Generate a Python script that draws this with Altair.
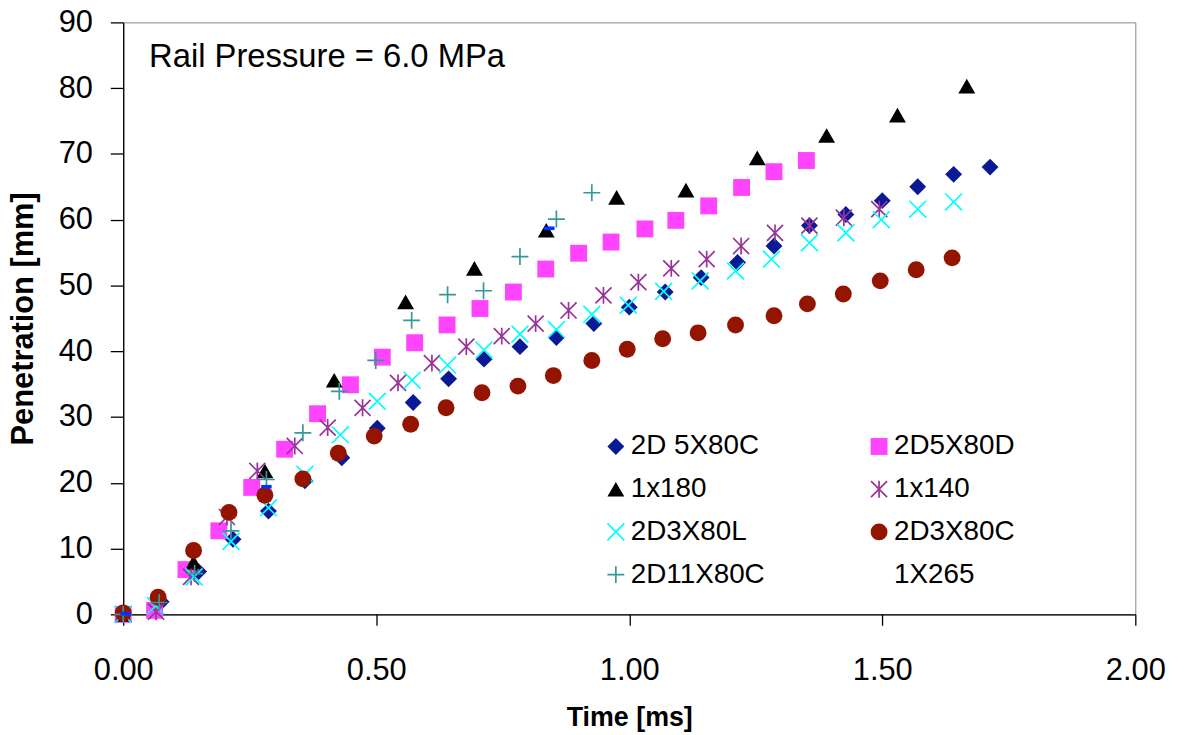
import math
import altair as alt
import pandas as pd

FONT = "Liberation Sans"

series_names = ["2D 5X80C", "2D5X80D", "1x180", "1x140",
                "2D3X80L", "2D3X80C", "2D11X80C", "1X265"]

# ---- data (time [ms], penetration [mm]) ----
t_2d5x80c = [0, 0.075, 0.149, 0.217, 0.287, 0.359, 0.432, 0.502, 0.573, 0.643, 0.713, 0.784,
             0.856, 0.930, 1.000, 1.071, 1.142, 1.214, 1.286, 1.356, 1.428, 1.500, 1.570,
             1.641, 1.713]
p_2d5x80c = [0, 1.9, 6.5, 11.4, 15.7, 20.3, 23.8, 28.3, 32.2, 35.8, 38.8, 40.7,
             42.1, 44.2, 46.7, 49.0, 51.2, 53.5, 56.0, 59.1, 60.8, 62.9, 65.0,
             66.9, 68.0]

t_2d5x80d = [0, 0.062, 0.124, 0.189, 0.254, 0.319, 0.384, 0.449, 0.512, 0.576, 0.640,
             0.705, 0.771, 0.835, 0.900, 0.964, 1.031, 1.092, 1.157, 1.222, 1.286, 1.350]
p_2d5x80d = [0, 0.6, 6.8, 12.7, 19.3, 25.1, 30.5, 34.9, 39.1, 41.3, 44.0,
             46.5, 49.0, 52.5, 54.9, 56.6, 58.6, 59.9, 62.1, 64.9, 67.3, 69.0]

t_1x180 = [0, 0.139, 0.280, 0.417, 0.558, 0.694, 0.836, 0.975, 1.112, 1.253, 1.390,
           1.530, 1.667]
p_1x180 = [0, 7.9, 21.8, 35.6, 47.5, 52.6, 58.4, 63.4, 64.5, 69.4, 72.8,
           75.9, 80.3]

t_1x140 = [0, 0.065, 0.134, 0.205, 0.265, 0.339, 0.404, 0.473, 0.543, 0.610, 0.678,
           0.748, 0.815, 0.880, 0.949, 1.018, 1.083, 1.153, 1.221, 1.288, 1.356,
           1.424, 1.494]
p_1x140 = [0, 0.4, 5.7, 14.8, 21.8, 25.6, 28.4, 31.4, 35.2, 38.2, 40.7,
           42.3, 44.2, 46.2, 48.5, 50.5, 52.6, 54.0, 56.0, 58.0, 59.1,
           60.3, 61.6]

t_2d3x80l = [0, 0.064, 0.140, 0.213, 0.287, 0.359, 0.429, 0.502, 0.571, 0.641, 0.713,
             0.784, 0.856, 0.926, 0.998, 1.068, 1.140, 1.210, 1.281, 1.356, 1.428,
             1.498, 1.570, 1.641]
p_2d3x80l = [0, 1.3, 5.7, 11.1, 16.2, 21.3, 27.3, 32.4, 35.6, 37.9, 40.2,
             42.6, 43.3, 45.6, 47.0, 49.1, 50.7, 52.2, 54.0, 56.5, 58.0,
             60.0, 61.6, 62.7]

t_2d3x80c = [0, 0.069, 0.139, 0.209, 0.280, 0.355, 0.425, 0.496, 0.568, 0.638, 0.709,
             0.780, 0.850, 0.926, 0.996, 1.066, 1.136, 1.210, 1.286, 1.352, 1.423,
             1.496, 1.567, 1.638]
p_2d3x80c = [0.2, 2.6, 9.7, 15.5, 18.1, 20.6, 24.5, 27.1, 28.9, 31.4, 33.7,
             34.7, 36.3, 38.6, 40.3, 41.9, 42.8, 44.0, 45.4, 47.2, 48.7,
             50.7, 52.4, 54.2]

t_2d11x80c = [0, 0.071, 0.141, 0.213, 0.283, 0.355, 0.427, 0.499, 0.570, 0.641, 0.712,
              0.784, 0.856, 0.926]
p_2d11x80c = [0, 1.8, 6.2, 12.7, 20.5, 27.6, 33.9, 38.6, 44.7, 48.6, 49.2,
              54.4, 60.1, 64.1]

t_1x265 = [0.005, 0.283, 0.842]
p_1x265 = [0.1, 19.4, 58.7]

annotation = "Rail Pressure = 6.0 MPa"

colors = ["#0a1a94", "#ff44ff", "#000000", "#993399",
          "#00ffff", "#951400", "#339999", "transparent"]


# ---- thin-line marker shapes as filled SVG paths ----
def seg(x0, y0, x1, y1, w=0.1):
    dx, dy = x1 - x0, y1 - y0
    L = math.hypot(dx, dy)
    nx, ny = -dy / L * w, dx / L * w
    pts = [(x0 + nx, y0 + ny), (x1 + nx, y1 + ny), (x1 - nx, y1 - ny), (x0 - nx, y0 - ny)]
    return "M" + "L".join(f"{a:.3f},{b:.3f}" for a, b in pts) + "Z"


PLUS = seg(0, -1, 0, 1) + seg(-1, 0, 1, 0)
XMARK = seg(-1, -1, 1, 1) + seg(-1, 1, 1, -1)
ASTER = seg(0, -1, 0, 1) + seg(-0.95, -0.95, 0.95, 0.95) + seg(-0.95, 0.95, 0.95, -0.95)
DASH = "M-1,-0.35L1,-0.35L1,0.35L-1,0.35Z"

shapes = ["diamond", "square", "triangle-up", ASTER, XMARK, "circle", PLUS, "circle"]

series_t = [t_2d5x80c, t_2d5x80d, t_1x180, t_1x140, t_2d3x80l, t_2d3x80c, t_2d11x80c]
series_p = [p_2d5x80c, p_2d5x80d, p_1x180, p_1x140, p_2d3x80l, p_2d3x80c, p_2d11x80c]

rows = []
for name, ts, ps in zip(series_names[:7], series_t, series_p):
    for t, p in zip(ts, ps):
        rows.append({"series": name, "t": t, "p": p})
df_main = pd.DataFrame(rows)
df_265 = pd.DataFrame({"series": ["1X265"] * len(t_1x265), "t": t_1x265, "p": p_1x265})
df_txt = pd.DataFrame({"label": [annotation]})

x_enc = alt.X("t:Q", scale=alt.Scale(domain=[0, 2], nice=False, zero=False),
              axis=alt.Axis(values=[0, 0.5, 1.0, 1.5, 2.0], format=".2f", title="Time [ms]"))
y_enc = alt.Y("p:Q", scale=alt.Scale(domain=[0, 90], nice=False),
              axis=alt.Axis(values=list(range(0, 91, 10)), title="Penetration [mm]"))

leg = alt.Legend(orient="none", legendX=482, legendY=413, columns=2, direction="horizontal",
                 title=None,
                 labelFont=FONT, labelFontSize=28, labelColor="black", labelLimit=400,
                 symbolSize=289, symbolStrokeWidth=0, rowPadding=15, columnPadding=101,
                 labelOffset=1, padding=0)

points = alt.Chart(df_main).mark_point(filled=True, size=289, opacity=1, strokeWidth=0).encode(
    x=x_enc,
    y=y_enc,
    color=alt.Color("series:N", scale=alt.Scale(domain=series_names, range=colors), legend=leg),
    shape=alt.Shape("series:N", scale=alt.Scale(domain=series_names, range=shapes), legend=leg),
)

dashes = alt.Chart(df_265).mark_point(filled=True, size=110, opacity=1, strokeWidth=0).encode(
    x="t:Q",
    y="p:Q",
    color=alt.value("#0033ff"),
    shape=alt.value(DASH),
)

label = alt.Chart(df_txt).mark_text(align="left", baseline="alphabetic", font=FONT,
                                    fontSize=33, color="black").encode(
    x=alt.value(26), y=alt.value(45), text="label:N")

chart = alt.layer(points, dashes, label).properties(
    width=1019, height=596,
    autosize=alt.AutoSizeParams(type="none"),
    padding={"left": 116, "top": 12, "right": 46, "bottom": 119},
).configure_view(
    stroke="#888888", strokeWidth=1
).configure_axis(
    grid=False, domainColor="black", tickColor="black", labelColor="black",
    titleColor="black", labelFont=FONT, titleFont=FONT, domainWidth=1.3, tickWidth=1.3,
    labelFontSize=31, titleFontWeight="bold", labelFlush=False, labelOverlap=False,
).configure_axisX(
    tickSize=11, labelPadding=31, titleFontSize=27, titlePadding=19,
).configure_axisY(
    tickSize=13, labelPadding=18, titleFontSize=31, titlePadding=19,
)

chart.save("out.html", embed_options={"renderer": "svg", "actions": False})
